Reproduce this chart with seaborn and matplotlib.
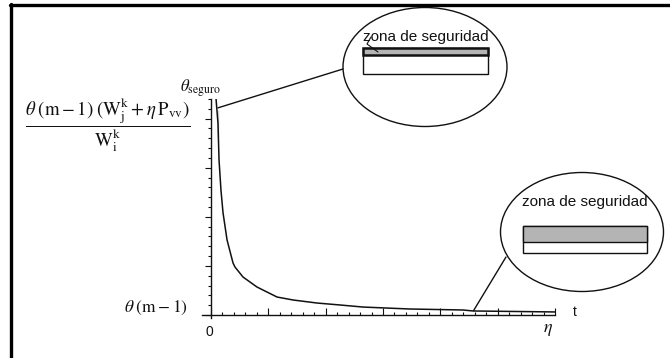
import matplotlib
matplotlib.use("Agg")
import matplotlib.pyplot as plt
import numpy as np
import pandas as pd
import seaborn as sns
from matplotlib.patches import Ellipse, Rectangle, ConnectionPatch
from matplotlib.lines import Line2D

# ---- data (t in minor-tick units, y in minor-tick units) ----
t_vals = [0.44, 0.61, 0.61, 0.70, 0.87, 1.05, 1.40, 1.92, 2.09, 2.79,
          4.01, 5.76, 7.15, 9.24, 11.25, 13.26, 17.35, 21.98, 22.85, 30.0]
y_vals = [22.0, 20.9, 18.1, 15.8, 12.7, 10.4, 7.64, 5.30, 4.89, 3.87,
          2.85, 1.83, 1.53, 1.22, 1.02, 0.81, 0.61, 0.51, 0.41, 0.31]
zone_label = "zona de seguridad"
y_top_label = r"$\theta_{\mathrm{seguro}}$"
y_frac_label = (r"$\dfrac{\theta\;(\mathrm{m}-1)\;(\mathrm{W}_{\mathrm{j}}^{\mathrm{k}}+\eta\,"
                r"\mathrm{P}_{\mathrm{vv}})}{\mathrm{W}_{\mathrm{i}}^{\mathrm{k}}}$")
y_base_label = r"$\theta\;(\mathrm{m}-1)$"

df = pd.DataFrame({"t": t_vals, "y": y_vals})

sns.set_style("white")
plt.rcParams["mathtext.fontset"] = "stix"
plt.rcParams["font.family"] = ["Liberation Sans", "DejaVu Sans"]

W, H = 670, 358
fig = plt.figure(figsize=(W / 100, H / 100), dpi=100)
fig.patch.set_facecolor("white")

# main axes geometry in pixels
x0_px, x_end_px, px_per_t = 211.0, 555.0, 344.0 / 30
y0_px, y_top_px, px_per_y = 315.0, 99.0, 216.0 / 22
xmin, ymin = -0.8, -0.35
left_px = x0_px + xmin * px_per_t
bot_px = y0_px - ymin * px_per_y
ax = fig.add_axes([left_px / W, (H - bot_px) / H,
                   (x_end_px - left_px) / W, (bot_px - y_top_px) / H])
ax.set_xlim(xmin, 30)
ax.set_ylim(ymin, 22)
ax.patch.set_alpha(0)

sns.lineplot(data=df, x="t", y="y", ax=ax, color="#111111", lw=1.1, sort=False)

for s in ["top", "right"]:
    ax.spines[s].set_visible(False)
ax.spines["left"].set_position(("data", 0))
ax.spines["bottom"].set_position(("data", 0))
for s in ["left", "bottom"]:
    ax.spines[s].set_color("#111111")
    ax.spines[s].set_linewidth(1.0)

ax.set_xticks(np.arange(0, 31, 5))
ax.set_xticks(np.arange(0, 31, 1), minor=True)
ax.set_yticks(np.arange(0, 23, 5))
ax.set_yticks(np.arange(0, 23, 1), minor=True)
ax.tick_params(axis="x", which="both", bottom=True, top=False)
ax.tick_params(axis="y", which="both", left=True, right=False)
ax.tick_params(axis="x", which="major", direction="in", length=5, width=0.8, color="#111111",
               labelbottom=False)
ax.tick_params(axis="x", which="minor", direction="in", length=2.5, width=0.8, color="#111111")
ax.tick_params(axis="y", which="major", direction="out", length=4, width=0.8, color="#111111",
               labelleft=False)
ax.tick_params(axis="y", which="minor", direction="out", length=2, width=0.8, color="#111111")
ax.set_xlabel("")
ax.set_ylabel("")

# overlay in pixel coordinates for annotations
ov = fig.add_axes([0, 0, 1, 1])
ov.set_xlim(0, W)
ov.set_ylim(H, 0)
ov.axis("off")

# outer frame (top and left edges visible)
ov.add_line(Line2D([10, 670], [4.5, 4.5], color="black", lw=2.4))
ov.add_line(Line2D([11, 11], [3.5, 358], color="black", lw=2.4))

# axis texts
ov.text(200, 88, y_top_label, fontsize=12, ha="center", va="center", color="#111111")
ov.text(108, 125, y_frac_label, fontsize=13.5, ha="center", va="center", color="#111111")
ov.text(156, 308, y_base_label, fontsize=12.5, ha="center", va="center", color="#111111")
ov.text(209, 332, "0", fontsize=10, ha="center", va="center", color="#111111")
ov.text(575, 312, "t", fontsize=10, ha="center", va="center", color="#111111")
ov.text(548, 329, r"$\eta$", fontsize=13, ha="center", va="center", color="#111111")

# ellipse 1 (top)
ov.add_patch(Ellipse((425, 67), 164, 119, fill=False, ec="#111111", lw=1.0))
ov.text(425.5, 37, zone_label, fontsize=11, ha="center", va="center", color="#111111")
ov.add_patch(Rectangle((363, 48), 125, 26, fc="white", ec="#111111", lw=1.0))
ov.add_patch(Rectangle((363, 48), 125, 7, fc="#b4b4b4", ec="#111111", lw=1.8))
ov.add_line(Line2D([371, 367, 378], [37, 44, 52], color="#111111", lw=0.8))

# ellipse 2 (bottom right)
ov.add_patch(Ellipse((582, 232), 163, 119, fill=False, ec="#111111", lw=1.0))
ov.text(585, 202, zone_label, fontsize=11, ha="center", va="center", color="#111111")
ov.add_patch(Rectangle((523, 226), 124, 27, fc="white", ec="#111111", lw=1.0))
ov.add_patch(Rectangle((523, 226), 124, 16, fc="#b4b4b4", ec="#111111", lw=1.0))

# connector lines from curve to zoom ellipses
c1 = ConnectionPatch(xyA=(0.61, 21.1), coordsA=ax.transData,
                     xyB=(343, 69), coordsB=ov.transData, color="#111111", lw=1.0)
fig.add_artist(c1)
c2 = ConnectionPatch(xyA=(22.9, 0.45), coordsA=ax.transData,
                     xyB=(506, 257), coordsB=ov.transData, color="#111111", lw=1.0)
fig.add_artist(c2)

fig.savefig("out.png", dpi=100, facecolor="white")
